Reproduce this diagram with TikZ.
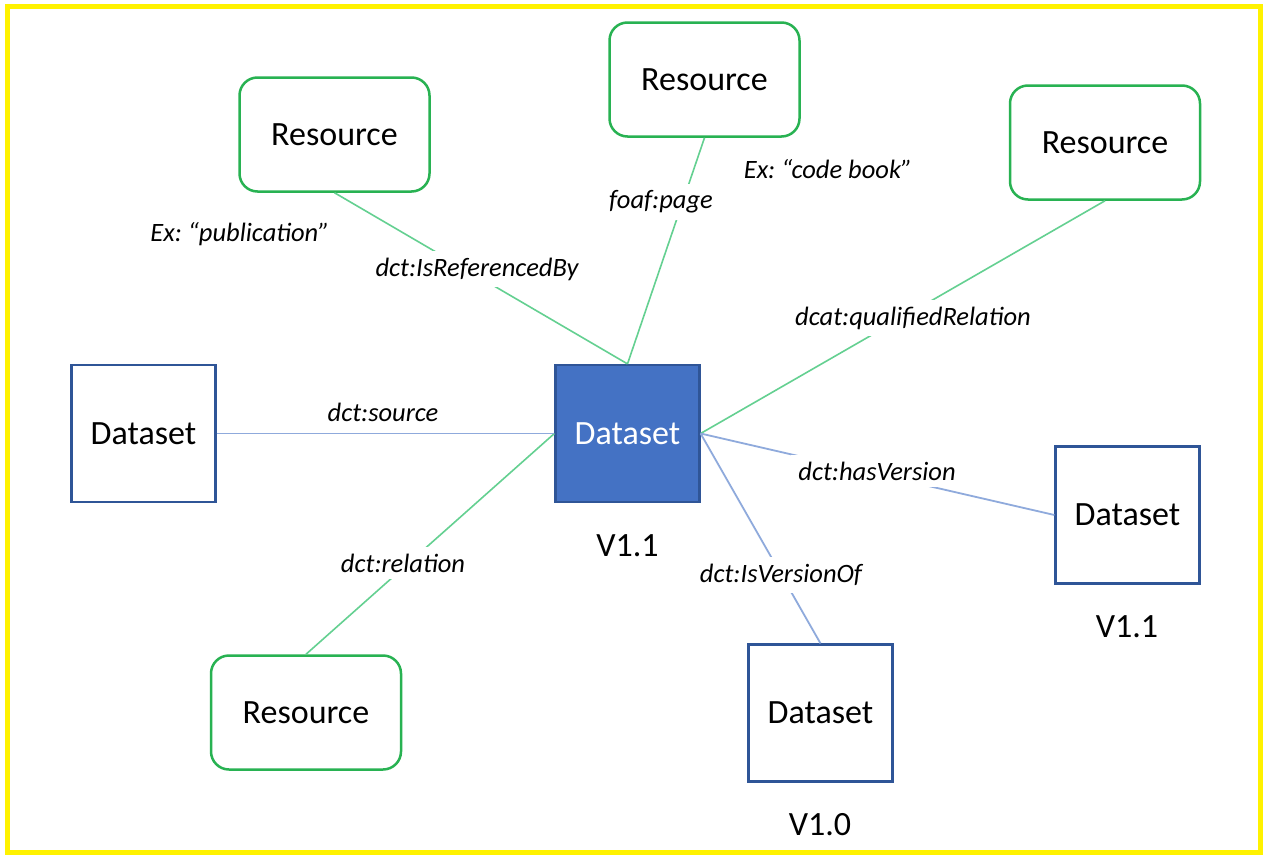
\documentclass[tikz,border=0pt]{standalone}
\usepackage{fontspec}
\setmainfont{Carlito}
\definecolor{resgreen}{RGB}{40,178,82}
\definecolor{lgreen}{RGB}{100,208,145}
\definecolor{lblue}{RGB}{143,170,220}
\definecolor{dsblue}{RGB}{47,85,151}
\definecolor{dsfill}{RGB}{68,114,196}
\newcommand\bigtxt{\fontsize{34}{40}\selectfont}
\newcommand\lbltxt{\fontsize{26.5}{30}\selectfont\itshape}
\frenchspacing
\begin{document}
\begin{tikzpicture}[x=1pt,y=-1pt,
  res/.style={draw=resgreen, line width=2.5pt, rounded corners=18pt, minimum width=190pt, minimum height=114pt, font=\bigtxt, inner sep=0pt},
  ds/.style={draw=dsblue, line width=2.2pt, minimum width=144pt, minimum height=137pt, font=\bigtxt, inner sep=0pt},
  dsmain/.style={ds, fill=dsfill, text=white},
  lbl/.style={fill=white, font=\lbltxt, inner sep=7pt},
  note/.style={font=\lbltxt, inner sep=0pt},
  ver/.style={font=\bigtxt, inner sep=0pt},
  gline/.style={draw=lgreen, line width=1.6pt},
  bline/.style={draw=lblue, line width=1.8pt}]
\useasboundingbox (0,0) rectangle (1263,854);
\fill[white] (0,0) rectangle (1263,854);
\draw[yellow, line width=5pt] (7.5,6.5) rectangle (1260,852);

% nodes
\node[res] (r1) at (334.5,134.5) {Resource};
\node[res] (r2) at (704.5,79.5) {Resource};
\node[res] (r3) at (1105,142.5) {Resource};
\node[res] (r4) at (306,712.5) {Resource};
\node[ds] (d1) at (143.5,433.5) {Dataset};
\node[dsmain] (c) at (627.5,433.5) {Dataset};
\node[ds] (d2) at (1127.5,515) {Dataset};
\node[ds] (d3) at (820.5,713) {Dataset};

% connectors
\draw[gline] (r1.south) -- (c.north);
\draw[gline] (r2.south) -- (c.north);
\draw[gline] (r3.south) -- (c.east);
\draw[gline] (c.west) -- (r4.north);
\draw[bline] (d1.east) -- (c.west);
\draw[bline] (c.east) -- (d2.west);
\draw[bline] (c.east) -- (d3.north);

% labels
\node[lbl] (l1) at (477,269) {dct:IsReferencedBy};
\node[lbl] (l2) at (661,202) {foaf:page};
\node[lbl] (l3) at (913,318) {dcat:qualifiedRelation};
\node[lbl] (l4) at (403,563) {dct:relation};
\node[note] (l5) at (383,412) {dct:source};
\node[lbl] (l6) at (877,471) {dct:hasVersion};
\node[lbl] (l7) at (781,575) {dct:IsVersionOf};
\node[note] (n1) at (240,234) {Ex: “publication”};
\node[note] (n2) at (828,169) {Ex: “code book”};

% versions
\node[ver] (v1) at (627.5,546) {V1.1};
\node[ver] (v2) at (1127,627) {V1.1};
\node[ver] (v3) at (820,825) {V1.0};
\end{tikzpicture}
\end{document}
